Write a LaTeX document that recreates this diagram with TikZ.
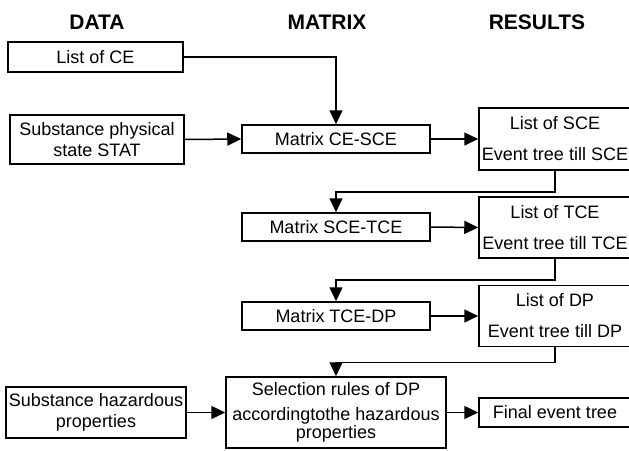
\documentclass[tikz,border=0pt]{standalone}
\usepackage{fontspec}
\setmainfont{Liberation Sans}
\usetikzlibrary{arrows.meta}
\begin{document}
\begin{tikzpicture}[x=1pt,y=-1pt,
  box/.style={draw, line width=1.5pt, inner sep=0pt, align=center,
    font=\fontsize{18}{21}\selectfont},
  head/.style={font=\fontsize{21}{25}\selectfont\bfseries},
  flow/.style={line width=1.5pt, -{Triangle[length=14pt,width=13pt]}}]
\useasboundingbox (0,0) rectangle (629,450);
\clip (0,0) rectangle (629,450);

% column headings
\node[head] (hdata) at (97,22) {DATA};
\node[head] (hmatrix) at (327,22) {MATRIX};
\node[head] (hresults) at (537,22) {RESULTS};

% data column
\node[box, minimum width=175pt, minimum height=30pt] (ce) at (95.5,57) {List of CE};
\node[box, minimum width=174pt, minimum height=49pt] (stat) at (97,139.5) {Substance physical\\state STAT};
\node[box, minimum width=180pt, minimum height=51pt] (haz) at (96,412.5) {Substance hazardous\\properties};

% matrix column
\node[box, minimum width=188pt, minimum height=28pt] (m1) at (336,139) {Matrix CE-SCE};
\node[box, minimum width=188pt, minimum height=28pt] (m2) at (336,227) {Matrix SCE-TCE};
\node[box, minimum width=188pt, minimum height=28pt] (m3) at (336,316) {Matrix TCE-DP};
\node[box, minimum width=220pt, minimum height=71pt] (sel) at (336,412.5)
  {Selection rules of DP\\[4pt]accordingtothe hazardous\\[-3pt]properties};

% results column
\node[box, minimum width=152pt, minimum height=62pt] (r1) at (555,139) {List of SCE\\[10pt]Event tree till SCE};
\node[box, minimum width=152pt, minimum height=61pt] (r2) at (555,227.5) {List of TCE\\[10pt]Event tree till TCE};
\node[box, minimum width=152pt, minimum height=61pt] (r3) at (555,316) {List of DP\\[10pt]Event tree till DP};
\node[box, minimum width=152pt, minimum height=29pt] (fin) at (555,412.5) {Final event tree};

% connectors
\draw[flow] (ce.east) -| (m1.north);
\draw[flow] (stat.east) -- (m1.west);
\draw[flow] (m1.east) -- (r1.west);
\draw[flow] (r1.south) -- ++(0,21) -| (m2.north);
\draw[flow] (m2.east) -- (r2.west);
\draw[flow] (r2.south) -- ++(0,21) -| (m3.north);
\draw[flow] (m3.east) -- (r3.west);
\draw[flow] (r3.south) -- ++(0,15) -| (sel.north);
\draw[flow] (haz.east) -- (sel.west);
\draw[flow] (sel.east) -- (fin.west);
\end{tikzpicture}
\end{document}
